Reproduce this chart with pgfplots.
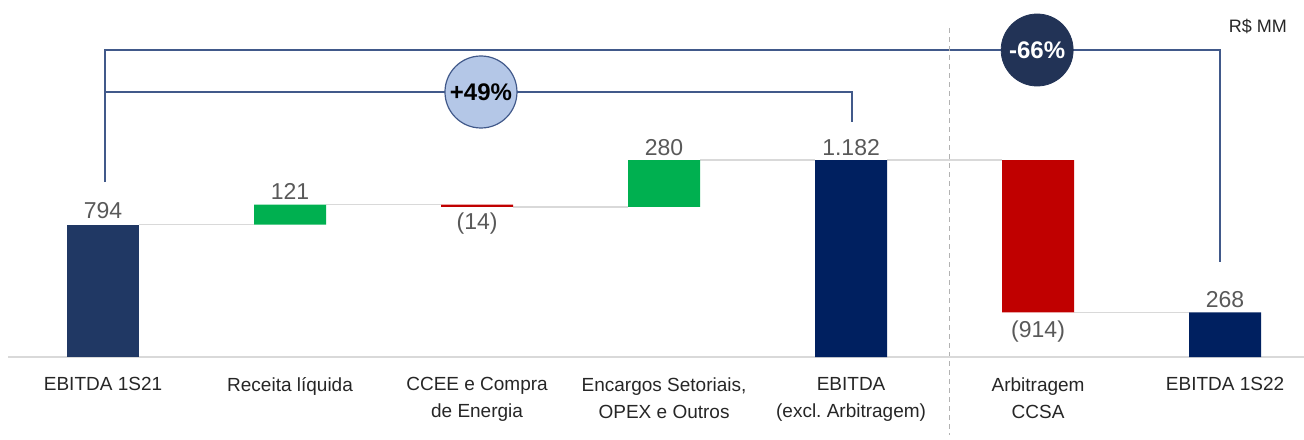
\documentclass[border=0pt]{standalone}
\usepackage{pgfplots}
\usepackage{pgfplotstable}
\pgfplotsset{compat=1.18}
\usepackage{fontspec}
\setmainfont{Liberation Sans}
\frenchspacing

\definecolor{navyA}{HTML}{203864}
\definecolor{navyB}{HTML}{002060}
\definecolor{grn}{HTML}{00B050}
\definecolor{rd}{HTML}{C00000}
\definecolor{brk}{HTML}{41598A}
\definecolor{circA}{HTML}{B4C7E7}
\definecolor{circB}{HTML}{223356}
\definecolor{lbl}{HTML}{595959}
\definecolor{conn}{HTML}{D9D9D9}
\definecolor{tickc}{HTML}{262626}

\begin{document}
% waterfall: invisible base + visible steps
\pgfplotstableread{
x base navyA grn rd navyB
0 0   794 0   0   0
1 794 0   121 0   0
2 901 0   0   14  0
3 901 0   280 0   0
4 0   0   0   0   1182
5 268 0   0   914 0
6 0   0   0   0   268
}\wfdata

\begin{tikzpicture}
\begin{axis}[
    scale only axis,
    width=652pt, height=178.5pt,
    xmin=-0.551, xmax=6.422,
    ymin=0, ymax=2142,
    axis line style={draw=none},
    ytick=\empty,
    xtick={0,1,2,3,4,5,6},
    major tick length=0pt,
    xticklabels={EBITDA 1S21, Receita líquida, CCEE e Compra\\de Energia,
        {Encargos Setoriais,\\OPEX e Outros}, EBITDA\\(excl. Arbitragem),
        Arbitragem\\CCSA, EBITDA 1S22},
    xticklabel style={align=center, anchor=north, inner sep=0pt, yshift=-10pt,
        font=\fontsize{9.5}{13.5}\selectfont, text=tickc},
    ybar stacked,
    bar width=36pt,
    clip=false,
]
\addplot[draw=none, fill=none] table[x=x, y=base] {\wfdata};
\addplot[draw=none, fill=navyA] table[x=x, y=navyA] {\wfdata};
\addplot[draw=none, fill=grn] table[x=x, y=grn] {\wfdata};
\addplot[draw=none, fill=rd] table[x=x, y=rd] {\wfdata};
\addplot[draw=none, fill=navyB] table[x=x, y=navyB] {\wfdata};

\coordinate (SW) at (rel axis cs:0,0);
\coordinate (NE) at (rel axis cs:1,1);
\coordinate (C1) at (axis cs:2.021,1590);
\coordinate (C2) at (axis cs:4.995,1842);

% baseline and connectors
\draw[conn, line width=1pt] (axis cs:-0.508,0) -- (axis cs:6.422,0);
\draw[conn, line width=0.7pt] (axis cs:0.193,794) -- (axis cs:0.807,794);
\draw[conn, line width=0.7pt] (axis cs:1.193,915) -- (axis cs:1.807,915);
\draw[conn, line width=0.7pt] (axis cs:2.193,901) -- (axis cs:2.807,901);
\draw[conn, line width=0.7pt] (axis cs:3.193,1182) -- (axis cs:3.807,1182);
\draw[conn, line width=0.7pt] (axis cs:4.193,1182) -- (axis cs:4.807,1182);
\draw[conn, line width=0.7pt] (axis cs:5.193,268) -- (axis cs:5.807,268);

% separator
\draw[black!30, line width=0.5pt, dash pattern=on 2.5pt off 2pt]
    (axis cs:4.524,1974) -- (axis cs:4.524,-468);

% brackets
\draw[brk, line width=0.9pt] (axis cs:0.011,1050) -- (axis cs:0.011,1842)
    -- (axis cs:5.973,1842) -- (axis cs:5.973,570);
\draw[brk, line width=0.9pt] (axis cs:0.011,1590) -- (axis cs:4.005,1590)
    -- (axis cs:4.005,1410);

% value labels
\node[anchor=base, inner sep=0pt, text=lbl, font=\fontsize{11.5}{12}\selectfont] at (axis cs:0,834) {794};
\node[anchor=base, inner sep=0pt, text=lbl, font=\fontsize{11.5}{12}\selectfont] at (axis cs:1,948) {121};
\node[anchor=base, inner sep=0pt, text=lbl, font=\fontsize{11.5}{12}\selectfont] at (axis cs:2,768) {(14)};
\node[anchor=base, inner sep=0pt, text=lbl, font=\fontsize{11.5}{12}\selectfont] at (axis cs:3,1212) {280};
\node[anchor=base, inner sep=0pt, text=lbl, font=\fontsize{11.5}{12}\selectfont] at (axis cs:4,1212) {1.182};
\node[anchor=base, inner sep=0pt, text=lbl, font=\fontsize{11.5}{12}\selectfont] at (axis cs:5,120) {(914)};
\node[anchor=base, inner sep=0pt, text=lbl, font=\fontsize{11.5}{12}\selectfont] at (axis cs:6,300) {268};

\node[anchor=base, inner sep=0pt, text=tickc, font=\fontsize{9}{9}\selectfont]
    at (axis cs:6.175,1944) {R\$ MM};
\end{axis}
\node[circle, fill=circA, draw=brk, line width=0.6pt, minimum size=36pt,
    inner sep=0pt, font=\bfseries\fontsize{12}{12}\selectfont] at (C1) {+49\%};
\node[circle, fill=circB, draw=circB, minimum size=36pt, inner sep=0pt,
    text=white, font=\bfseries\fontsize{12}{12}\selectfont] at (C2) {-66\%};
\pgfresetboundingbox
\path (SW) ++(0,-41pt) rectangle (NE);
\end{tikzpicture}
\end{document}
